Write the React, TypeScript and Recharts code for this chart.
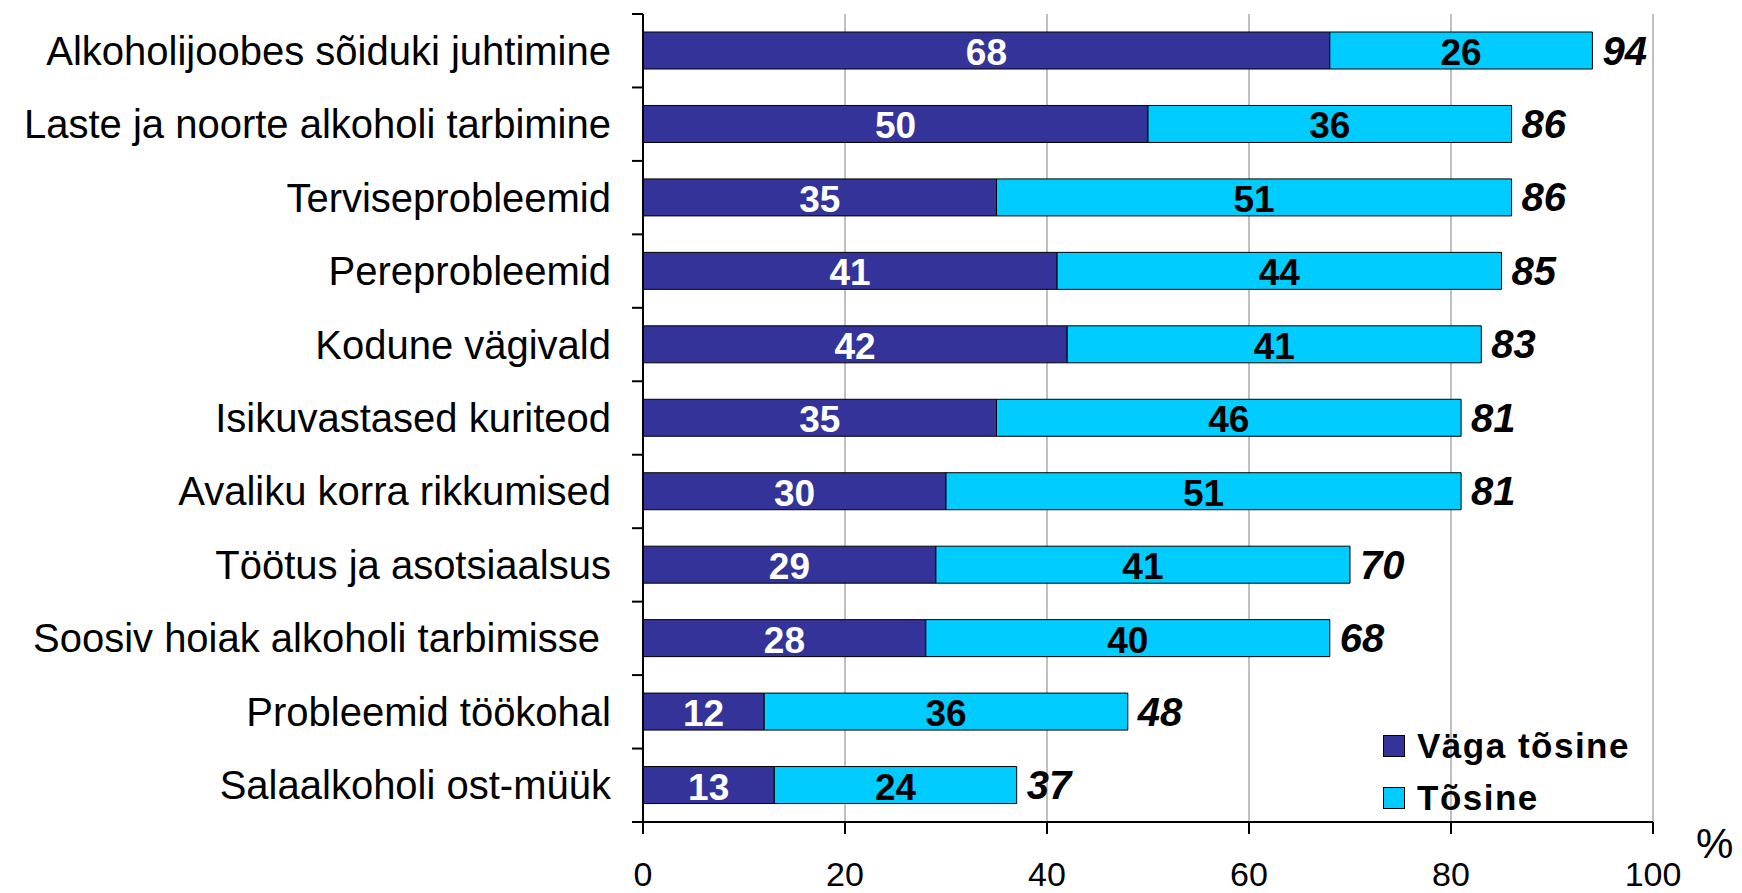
import { BarChart, Bar, XAxis, YAxis, CartesianGrid, LabelList } from 'recharts';

const categories = [
  'Alkoholijoobes sõiduki juhtimine',
  'Laste ja noorte alkoholi tarbimine',
  'Terviseprobleemid',
  'Pereprobleemid',
  'Kodune vägivald',
  'Isikuvastased kuriteod',
  'Avaliku korra rikkumised',
  'Töötus ja asotsiaalsus',
  'Soosiv hoiak alkoholi tarbimisse\u00A0',
  'Probleemid töökohal',
  'Salaalkoholi ost-müük',
];
const vagaTosine = [68, 50, 35, 41, 42, 35, 30, 29, 28, 12, 13];
const tosine = [26, 36, 51, 44, 41, 46, 51, 41, 40, 36, 24];
const xTicks = [0, 20, 40, 60, 80, 100];
const seriesNames = ['Väga tõsine', 'Tõsine'];

const data = categories.map((name, i) => ({
  name,
  vaga: vagaTosine[i],
  tosine: tosine[i],
  total: vagaTosine[i] + tosine[i],
}));

const FONT = '"Liberation Sans", Arial, sans-serif';
const DARK = '#333399';
const CYAN = '#00CCFF';

const W = 1726;
const H = 885;
const TOP = 6;
const X_AXIS_H = 71;
const PLOT_H = H - TOP - X_AXIS_H;

function CategoryTick(props: any) {
  const { x, y, payload, index } = props;
  const half = PLOT_H / categories.length / 2;
  return (
    <g>
      <line x1={x - 11} x2={x} y1={y - half} y2={y - half} stroke="#000" strokeWidth={2} />
      {index === categories.length - 1 && (
        <line x1={x - 11} x2={x} y1={y + half} y2={y + half} stroke="#000" strokeWidth={2} />
      )}
      <text
        x={x - 32}
        y={y}
        textAnchor="end"
        dominantBaseline="central"
        fontSize={40}
        fontFamily={FONT}
        fill="#000"
      >
        {payload.value}
      </text>
    </g>
  );
}

function XTick(props: any) {
  const { x, y, payload } = props;
  return (
    <text
      x={x}
      y={y}
      textAnchor="middle"
      dominantBaseline="central"
      fontSize={34}
      fontFamily={FONT}
      fill="#000"
    >
      {payload.value}
    </text>
  );
}

function InnerLabel(color: string) {
  return (props: any) => {
    const { x, y, width, height, value } = props;
    return (
      <text
        x={x + width / 2}
        y={y + height / 2 + 2}
        textAnchor="middle"
        dominantBaseline="central"
        fontSize={37}
        fontWeight="bold"
        fontFamily={FONT}
        fill={color}
      >
        {value}
      </text>
    );
  };
}

function TotalLabel(props: any) {
  const { x, y, width, height, index } = props;
  return (
    <text
      x={x + width + 10}
      y={y + height / 2}
      textAnchor="start"
      dominantBaseline="central"
      fontSize={40}
      fontWeight="bold"
      fontStyle="italic"
      fontFamily={FONT}
      fill="#000"
    >
      {data[index].total}
    </text>
  );
}

function LegendBox() {
  const colors = [DARK, CYAN];
  return (
    <div style={{ position: 'absolute', left: 1375, top: 712, fontFamily: FONT }}>
      {seriesNames.map((label, i) => (
        <div key={label} style={{ display: 'flex', alignItems: 'center', height: 52 }}>
          <div
            style={{
              width: 20,
              height: 20,
              background: colors[i],
              border: '1px solid #000',
              marginRight: 12,
            }}
          />
          <span style={{ fontSize: 35, fontWeight: 'bold', letterSpacing: 1.5 }}>{label}</span>
        </div>
      ))}
    </div>
  );
}

export default function App() {
  return (
    <div style={{ position: 'relative', width: W, height: H, background: '#fff' }}>
      <BarChart
        width={W}
        height={H}
        data={data}
        layout="vertical"
        margin={{ top: TOP, right: 81, bottom: 0, left: 0 }}
        barSize={37}
        style={{ overflow: 'visible' }}
      >
        <CartesianGrid horizontal={false} stroke="#c0c0c0" strokeWidth={2} />
        <XAxis
          type="number"
          domain={[0, 100]}
          ticks={xTicks}
          interval={0}
          height={X_AXIS_H}
          axisLine={{ stroke: '#000', strokeWidth: 2 }}
          tickLine={{ stroke: '#000', strokeWidth: 2 }}
          tickSize={12}
          tickMargin={40}
          tick={<XTick />}
        />
        <XAxis
          xAxisId="top"
          orientation="top"
          type="number"
          domain={[0, 100]}
          height={0}
          tick={false}
          tickLine={false}
          axisLine={{ stroke: '#c0c0c0', strokeWidth: 2 }}
        />
        <YAxis
          type="category"
          dataKey="name"
          width={635}
          interval={0}
          tickSize={0}
          tickMargin={0}
          tickLine={false}
          axisLine={{ stroke: '#000', strokeWidth: 2 }}
          tick={<CategoryTick />}
        />
        <Bar dataKey="vaga" name={seriesNames[0]} stackId="a" fill={DARK} stroke="#000" strokeWidth={1} isAnimationActive={false}>
          <LabelList dataKey="vaga" content={InnerLabel('#fff')} />
        </Bar>
        <Bar dataKey="tosine" name={seriesNames[1]} stackId="a" fill={CYAN} stroke="#000" strokeWidth={1} isAnimationActive={false}>
          <LabelList dataKey="tosine" content={InnerLabel('#000')} />
          <LabelList dataKey="total" content={TotalLabel} />
        </Bar>
      </BarChart>
      <LegendBox />
      <div
        style={{
          position: 'absolute',
          left: 1688,
          top: 812,
          fontSize: 42,
          fontFamily: FONT,
          color: '#000',
        }}
      >
        %
      </div>
    </div>
  );
}
